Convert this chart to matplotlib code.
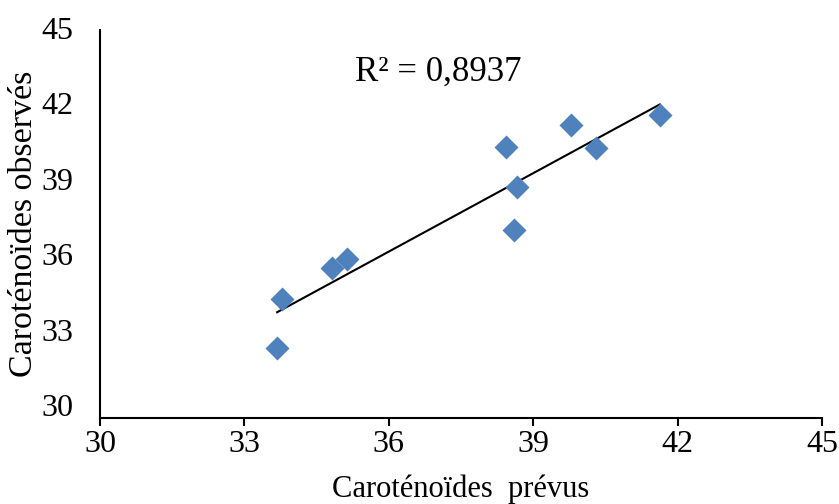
import matplotlib.pyplot as plt
import numpy as np
from matplotlib.transforms import ScaledTranslation

# Data
prevus = np.array([33.68, 33.79, 34.81, 35.14, 38.44, 38.66, 38.60, 39.79, 40.31, 41.63])
observes = np.array([32.69, 34.59, 35.78, 36.13, 40.46, 38.91, 37.26, 41.31, 40.44, 41.71])
ticks = [30, 33, 36, 39, 42, 45]
r2_text = 'R² = 0,8937'

plt.rcParams['font.family'] = ['Liberation Serif', 'DejaVu Serif']

fig = plt.figure(figsize=(8.39, 5.04), dpi=100)
ax = fig.add_axes([0.1192, 0.1712, 0.8605, 0.7693])

ax.scatter(prevus, observes, marker='D', s=150, color='#4F81BD', zorder=3, linewidths=0)

# Linear trendline
slope, intercept = np.polyfit(prevus, observes, 1)
xs = np.array([prevus.min(), prevus.max()])
ax.plot(xs, slope * xs + intercept, color='black', lw=1.5, zorder=2)

ax.text(35.3, 43.35, r2_text, fontsize=25, ha='left', va='center')

ax.set_xlim(30, 45)
ax.set_ylim(30, 45)
ax.set_xticks(ticks)
ax.set_yticks(ticks)
ax.tick_params(axis='x', length=6, width=1.5, labelsize=23, pad=3)
ax.tick_params(axis='y', length=0, labelsize=23, pad=19)
# y labels sit a little above their ticks in the original
for lbl, v in zip(ax.get_yticklabels(), ticks):
    shift_px = 2 + (45 - v) * 0.72
    lbl.set_transform(lbl.get_transform() + ScaledTranslation(0, shift_px / 100, fig.dpi_scale_trans))

for side in ['top', 'right']:
    ax.spines[side].set_visible(False)
for side in ['left', 'bottom']:
    ax.spines[side].set_linewidth(1.5)

ax.set_xlabel('Caroténoïdes  prévus', fontsize=22, labelpad=11)
ax.set_ylabel('Caroténoïdes observés', fontsize=24.5, labelpad=2)

plt.savefig('out.png', dpi=100)
